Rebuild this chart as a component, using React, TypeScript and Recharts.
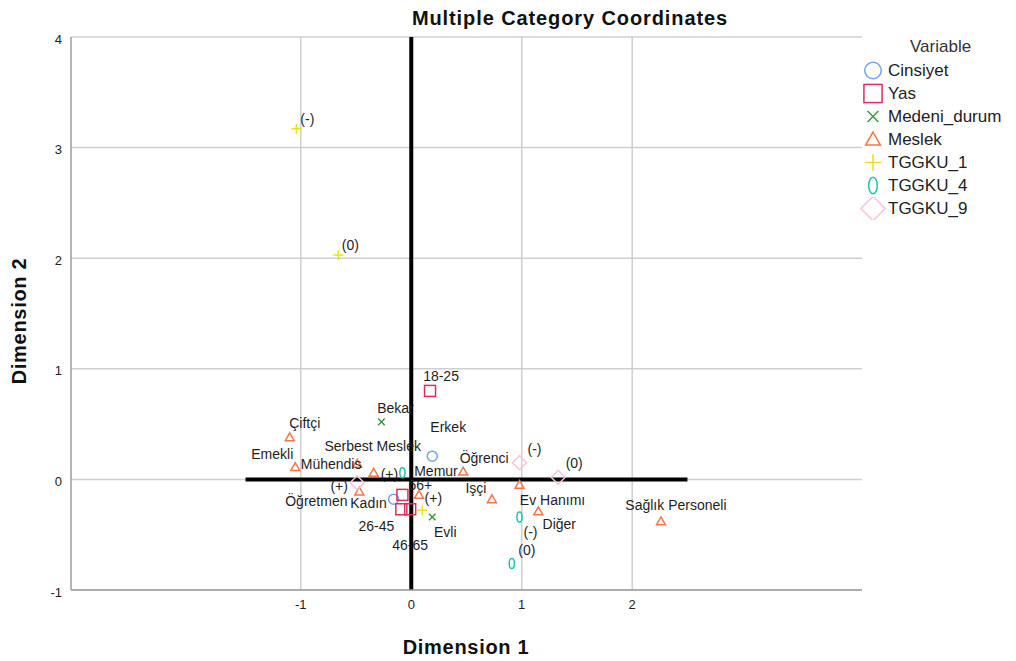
import { ScatterChart, Scatter, XAxis, YAxis, CartesianGrid, ReferenceLine } from "recharts";

// category coordinates (dimension 1 / dimension 2)
const cinsiyetCats = ["Erkek", "Kadın"];
const cinsiyetD1 = [0.19, -0.16];
const cinsiyetD2 = [0.21, -0.18];

const yasCats = ["18-25", "66+", "26-45", "46-65"];
const yasD1 = [0.17, -0.08, -0.09, -0.01];
const yasD2 = [0.8, -0.14, -0.27, -0.27];

const medeniCats = ["Bekar", "Evli"];
const medeniD1 = [-0.27, 0.19];
const medeniD2 = [0.52, -0.34];

const meslekCats = [
  "Çiftçi",
  "Emekli",
  "Mühendis",
  "Serbest Meslek",
  "Öğretmen",
  "Memur",
  "Öğrenci",
  "İşçi",
  "Ev Hanımı",
  "Diğer",
  "Sağlık Personeli",
];
const meslekD1 = [-1.1, -1.05, -0.49, -0.34, -0.47, 0.07, 0.47, 0.73, 0.98, 1.15, 2.26];
const meslekD2 = [0.38, 0.11, 0.14, 0.06, -0.11, -0.14, 0.07, -0.18, -0.05, -0.29, -0.38];

const tggku1Cats = ["(-)", "(0)", "(+)"];
const tggku1D1 = [-1.04, -0.66, 0.1];
const tggku1D2 = [3.17, 2.03, -0.28];

const tggku4Cats = ["(+)", "(-)", "(0)"];
const tggku4D1 = [-0.08, 0.98, 0.91];
const tggku4D2 = [0.06, -0.34, -0.76];

const tggku9Cats = ["(+)", "(-)", "(0)"];
const tggku9D1 = [-0.49, 0.98, 1.33];
const tggku9D2 = [-0.03, 0.15, 0.02];

const xTicks = [-1, 0, 1, 2];
const yTicks = [-1, 0, 1, 2, 3, 4];
const X_DOMAIN: [number, number] = [-3.08, 4.08];

// where each point label sits relative to its marker (px), same order as the categories
const LABEL_AT: Record<string, [number, number][]> = {
  Cinsiyet: [[16, -29], [-25, 4]],
  Yas: [[11, -15], [18, -10], [-25, 17], [0, 36]],
  Medeni_durum: [[14, -14], [13, 15]],
  Meslek: [
    [15, -14], [-23, -13], [-26, 0], [-1, -27], [-43, 9], [17, -24],
    [21, -14], [-16, -11], [33, 15], [21, 13], [15, -16],
  ],
  TGGKU_1: [[11, -10], [12, -10], [11, -12]],
  TGGKU_4: [[-13, 1], [11, 15], [15, -13]],
  TGGKU_9: [[-18, 3], [15, -14], [16, -14]],
};

type Kind = "circle" | "square" | "cross" | "triangle" | "plus" | "zero" | "diamond";

const SERIES: { name: string; kind: Kind; color: string; cats: string[]; d1: number[]; d2: number[] }[] = [
  { name: "Cinsiyet", kind: "circle", color: "#74a3e8", cats: cinsiyetCats, d1: cinsiyetD1, d2: cinsiyetD2 },
  { name: "Yas", kind: "square", color: "#dc2f5e", cats: yasCats, d1: yasD1, d2: yasD2 },
  { name: "Medeni_durum", kind: "cross", color: "#3b9a3b", cats: medeniCats, d1: medeniD1, d2: medeniD2 },
  { name: "Meslek", kind: "triangle", color: "#f47748", cats: meslekCats, d1: meslekD1, d2: meslekD2 },
  { name: "TGGKU_1", kind: "plus", color: "#e8e01a", cats: tggku1Cats, d1: tggku1D1, d2: tggku1D2 },
  { name: "TGGKU_4", kind: "zero", color: "#22c3ae", cats: tggku4Cats, d1: tggku4D1, d2: tggku4D2 },
  { name: "TGGKU_9", kind: "diamond", color: "#f7c2da", cats: tggku9Cats, d1: tggku9D1, d2: tggku9D2 },
];

const FONT = "Arial, 'Liberation Sans', sans-serif";
const GRID = "#cfcfcf";
const AXIS_LINE = "#9c9c9c";

function Marker({ kind, color, cx, cy, s = 1 }: { kind: Kind; color: string; cx: number; cy: number; s?: number }) {
  const common = { fill: "none", stroke: color, strokeWidth: 1.5 };
  switch (kind) {
    case "circle":
      return <circle cx={cx} cy={cy} r={5 * s} {...common} />;
    case "square": {
      const h = 5.5 * s;
      return <rect x={cx - h} y={cy - h} width={2 * h} height={2 * h} {...common} />;
    }
    case "cross": {
      const h = 3.3 * s;
      return <path d={`M${cx - h},${cy - h}L${cx + h},${cy + h}M${cx + h},${cy - h}L${cx - h},${cy + h}`} {...common} />;
    }
    case "triangle": {
      const h = 4.5 * s;
      return <path d={`M${cx},${cy - h}L${cx + h},${cy + h * 0.75}L${cx - h},${cy + h * 0.75}Z`} {...common} />;
    }
    case "plus": {
      const h = 5 * s;
      return <path d={`M${cx - h},${cy}L${cx + h},${cy}M${cx},${cy - h}L${cx},${cy + h}`} {...common} />;
    }
    case "zero":
      return <ellipse cx={cx} cy={cy} rx={2.6 * s} ry={5 * s} {...common} />;
    case "diamond": {
      const h = 7 * s;
      return <path d={`M${cx},${cy - h}L${cx + h},${cy}L${cx},${cy + h}L${cx - h},${cy}Z`} {...common} />;
    }
  }
  return null;
}

function Legend() {
  return (
    <div style={{ position: "absolute", left: 852, top: 27, fontFamily: FONT, fontSize: 17, color: "#333" }}>
      <div style={{ marginLeft: 50, height: 24, lineHeight: "24px" }}>Variable</div>
      {SERIES.map((s) => (
        <div key={s.name} style={{ display: "flex", alignItems: "center", height: 23 }}>
          <svg width={26} height={23}>
            <Marker kind={s.kind} color={s.color} cx={13} cy={11.5} s={s.kind === "diamond" ? 1.75 : 1.65} />
          </svg>
          <span style={{ marginLeft: 2, color: "#222" }}>{s.name}</span>
        </div>
      ))}
    </div>
  );
}

const titleStyle = {
  position: "absolute" as const,
  textAlign: "center" as const,
  fontSize: 20,
  fontWeight: "bold" as const,
  color: "#111",
  lineHeight: "26px",
};

export default function App() {
  return (
    <div style={{ position: "relative", width: 1000, height: 653, fontFamily: FONT }}>
      <div style={{ ...titleStyle, left: 362, top: -3, width: 400, letterSpacing: 0.9 }}>
        Multiple Category Coordinates
      </div>
      <div style={{ ...titleStyle, left: 250, top: 626, width: 416, letterSpacing: 0.7 }}>Dimension 1</div>
      <div
        style={{
          ...titleStyle,
          left: 11 - 100,
          top: 313 - 13,
          width: 200,
          letterSpacing: 0.7,
          transform: "rotate(-90deg)",
        }}
      >
        Dimension 2
      </div>
      <ScatterChart width={1000} height={653} margin={{ top: 29, right: 146, bottom: 0, left: 0 }}>
        <CartesianGrid stroke={GRID} strokeWidth={1.5} vertical={false} />
        {xTicks.map((t) => (
          <ReferenceLine key={t} x={t} stroke={GRID} strokeWidth={1.5} />
        ))}
        <XAxis
          type="number"
          dataKey="x"
          domain={X_DOMAIN}
          ticks={xTicks}
          allowDataOverflow
          height={71}
          tickSize={0}
          tickMargin={10}
          tick={{ fontSize: 13, fill: "#222", fontFamily: FONT }}
          axisLine={{ stroke: AXIS_LINE, strokeWidth: 1.5 }}
        />
        <YAxis
          type="number"
          dataKey="y"
          domain={[-1, 4]}
          ticks={yTicks}
          allowDataOverflow
          width={63}
          tickSize={0}
          tickMargin={9}
          tick={{ fontSize: 13, fill: "#222", fontFamily: FONT, dy: 2 }}
          axisLine={{ stroke: AXIS_LINE, strokeWidth: 1.5 }}
        />
        {SERIES.map((s) => {
          const offs = LABEL_AT[s.name];
          const data = s.cats.map((c, i) => ({ x: s.d1[i], y: s.d2[i], label: c, off: offs[i] }));
          return (
            <Scatter
              key={s.name}
              name={s.name}
              data={data}
              isAnimationActive={false}
              shape={(p: any) => (
                <g>
                  <Marker kind={s.kind} color={s.color} cx={p.cx} cy={p.cy} />
                  <text
                    x={p.cx + p.payload.off[0]}
                    y={p.cy + p.payload.off[1]}
                    textAnchor="middle"
                    dominantBaseline="central"
                    fontSize={14}
                    fontFamily={FONT}
                    fill="#1e1e1e"
                  >
                    {p.payload.label}
                  </text>
                </g>
              )}
            />
          );
        })}
        <ReferenceLine x={0} stroke="#000" strokeWidth={4} />
        <ReferenceLine
          segment={[
            { x: -1.5, y: 0 },
            { x: 2.5, y: 0 },
          ]}
          stroke="#000"
          strokeWidth={4}
        />
      </ScatterChart>
      <Legend />
    </div>
  );
}
